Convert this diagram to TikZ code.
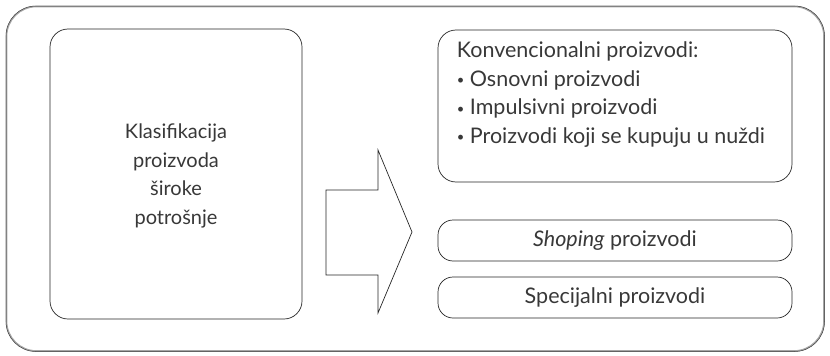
\documentclass[tikz,border=0pt]{standalone}
\usepackage{fontspec}
\setmainfont{Lato}
\newcommand{\smallbul}{{\fontsize{13}{13}\selectfont\raisebox{1.5pt}{\textbullet}}}
\begin{document}
\begin{tikzpicture}[x=1pt,y=-1pt,
  box/.style={draw=black!85, line width=0.7pt, rounded corners=18pt, inner sep=0pt},
  txt/.style={font=\fontsize{21.5}{28.5}\selectfont, text=black!78, inner sep=0pt},
  ltxt/.style={font=\fontsize{20}{28.5}\selectfont, text=black!78, inner sep=0pt}]
\useasboundingbox (0,0) rectangle (830,356);
% outer frame
\draw[gray!70, line width=1.6pt, rounded corners=30pt] (6.5,6.5) rectangle (824,351);
\draw[black!75, line width=0.5pt, rounded corners=30pt] (6,6) rectangle (824.5,351.5);
% left box
\node[box, minimum width=252pt, minimum height=290pt] (left) at (176,174) {};
\node[ltxt, align=center] (lefttext) at (176,176) {Klasifikacija\\proizvoda\\široke\\potrošnje};
% arrow
\coordinate (a1) at (326,190);
\coordinate (a2) at (378,190);
\coordinate (a3) at (378,150);
\coordinate (a4) at (412,232);
\coordinate (a5) at (378,313);
\coordinate (a6) at (378,275);
\coordinate (a7) at (326,275);
\draw[black!85, line width=0.7pt, line join=miter] (a1) -- (a2) -- (a3) -- (a4) -- (a5) -- (a6) -- (a7) -- cycle;
% right boxes
\node[box, minimum width=354pt, minimum height=152pt] (konv) at (615,106) {};
\node[txt, align=left, anchor=north west] (konvtext) at ([xshift=19pt,yshift=-12pt]konv.north west)
  {Konvencionalni proizvodi:\\\smallbul\ Osnovni proizvodi\\\smallbul\ Impulsivni proizvodi\\\smallbul\ Proizvodi koji se kupuju u nuždi};
\node[box, minimum width=354pt, minimum height=41pt, rounded corners=15pt] (shop) at (615,240.5) {};
\node[txt] (shoptext) at (shop.center) {\textit{Shoping} proizvodi};
\node[box, minimum width=354pt, minimum height=41pt, rounded corners=15pt] (spec) at (615,297.5) {};
\node[txt] (spectext) at (spec.center) {Specijalni proizvodi};
\end{tikzpicture}
\end{document}
